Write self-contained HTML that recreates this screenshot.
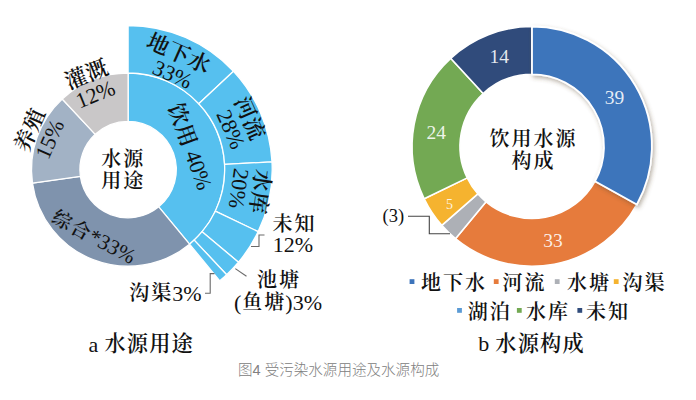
<!DOCTYPE html>
<html lang="zh-CN"><head><meta charset="utf-8"><title>图4 受污染水源用途及水源构成</title>
<style>
html,body{margin:0;padding:0;background:#fff}
body{width:696px;height:400px;overflow:hidden;position:relative}
svg{position:absolute;left:0;top:0;display:block}
svg text{font-family:"Liberation Serif","Noto Serif CJK SC",serif;font-weight:400}
.cap{position:absolute;left:238px;top:361px;font:300 14.55px/18px "Liberation Sans","Noto Sans CJK SC",sans-serif;color:#808080;white-space:nowrap}
</style></head><body>
<svg width="696" height="400" viewBox="0 0 696 400">
<defs><filter id="sh" x="-20%" y="-20%" width="140%" height="140%"><feDropShadow dx="1.6" dy="2.4" stdDeviation="2.3" flood-color="#5a4a30" flood-opacity="0.42"/></filter></defs>
<g><path d="M128.10 73.00A96.6 96.6 0 0 1 189.55 244.14L158.76 206.79A48.2 48.2 0 0 0 128.10 121.40Z" fill="#56c0ef" stroke="#fff" stroke-width="1.3" stroke-linejoin="round"/><path d="M189.55 244.14A96.6 96.6 0 0 1 32.44 183.04L80.37 176.31A48.2 48.2 0 0 0 158.76 206.79Z" fill="#7f93ad" stroke="#fff" stroke-width="1.3" stroke-linejoin="round"/><path d="M32.44 183.04A96.6 96.6 0 0 1 62.22 98.95L95.23 134.35A48.2 48.2 0 0 0 80.37 176.31Z" fill="#a2b2c5" stroke="#fff" stroke-width="1.3" stroke-linejoin="round"/><path d="M62.22 98.95A96.6 96.6 0 0 1 128.10 73.00L128.10 121.40A48.2 48.2 0 0 0 95.23 134.35Z" fill="#c9c7c8" stroke="#fff" stroke-width="1.3" stroke-linejoin="round"/><path d="M128.10 25.50A144.1 144.1 0 0 1 233.49 71.32L198.75 103.72A96.6 96.6 0 0 0 128.10 73.00Z" fill="#56c0ef" stroke="#fff" stroke-width="1.3" stroke-linejoin="round"/><path d="M233.49 71.32A144.1 144.1 0 0 1 271.99 161.81L224.56 164.38A96.6 96.6 0 0 0 198.75 103.72Z" fill="#56c0ef" stroke="#fff" stroke-width="1.3" stroke-linejoin="round"/><path d="M271.99 161.81A144.1 144.1 0 0 1 258.16 231.64L215.29 211.19A96.6 96.6 0 0 0 224.56 164.38Z" fill="#56c0ef" stroke="#fff" stroke-width="1.3" stroke-linejoin="round"/><path d="M258.16 231.64A144.1 144.1 0 0 1 238.49 262.23L202.10 231.69A96.6 96.6 0 0 0 215.29 211.19Z" fill="#56c0ef" stroke="#fff" stroke-width="1.3" stroke-linejoin="round"/><path d="M238.49 262.23A144.1 144.1 0 0 1 226.65 274.73L194.17 240.08A96.6 96.6 0 0 0 202.10 231.69Z" fill="#56c0ef" stroke="#fff" stroke-width="1.3" stroke-linejoin="round"/><path d="M226.65 274.73A144.1 144.1 0 0 1 219.76 280.79L189.55 244.14A96.6 96.6 0 0 0 194.17 240.08Z" fill="#56c0ef" stroke="#fff" stroke-width="1.3" stroke-linejoin="round"/></g>
<g><path d="M636.88 204.50A119.9 119.9 0 0 1 455.47 238.70L486.05 201.83A72.0 72.0 0 0 0 594.98 181.29Z" fill="#e67b3c" stroke="#fff" stroke-width="1.6" stroke-linejoin="round"/><path d="M455.47 238.70A119.9 119.9 0 0 1 441.77 225.36L477.81 193.81A72.0 72.0 0 0 0 486.05 201.83Z" fill="#adb0b6" stroke="#fff" stroke-width="1.6" stroke-linejoin="round"/><path d="M441.77 225.36A119.9 119.9 0 0 1 424.17 198.83L467.25 177.89A72.0 72.0 0 0 0 477.81 193.81Z" fill="#f5b32f" stroke="#fff" stroke-width="1.6" stroke-linejoin="round"/><path d="M424.17 198.83A119.9 119.9 0 0 1 450.67 58.30L483.16 93.50A72.0 72.0 0 0 0 467.25 177.89Z" fill="#73a953" stroke="#fff" stroke-width="1.6" stroke-linejoin="round"/><path d="M450.67 58.30A119.9 119.9 0 0 1 532.00 26.50L532.00 74.40A72.0 72.0 0 0 0 483.16 93.50Z" fill="#304b7b" stroke="#fff" stroke-width="1.6" stroke-linejoin="round"/><path d="M532.00 26.50A119.9 119.9 0 0 1 636.88 204.50L594.98 181.29A72.0 72.0 0 0 0 532.00 74.40Z" fill="#3d74bb" stroke="#fff" stroke-width="1.8" stroke-linejoin="round" filter="url(#sh)"/></g>
<g fill="none" stroke="#6a6a6a" stroke-width="1.1"><path d="M264.5 235H259V246.5H251" /><path d="M235.3 268.6L246.5 276.2" /><path d="M214.5 273.6H210.2V293.2H205" /><path d="M408 216.3H429.3V233.8H450" stroke="#444"/></g>
<g><g transform="translate(174.3 63) rotate(24)" font-size="22" fill="#111" text-anchor="middle"><text x="0.1" y="-11.0" dominant-baseline="central"><tspan font-weight="600" font-size="22" letter-spacing="0.4" dx="0.2">地下水</tspan></text><text x="3" y="11.0" dominant-baseline="central">33%</text></g><g transform="translate(240 122.5) rotate(66)" font-size="22" fill="#111" text-anchor="middle"><text x="0.1" y="-11.0" dominant-baseline="central"><tspan font-weight="600" font-size="22" letter-spacing="0.4" dx="0.2">河流</tspan></text><text x="2.5" y="11.0" dominant-baseline="central">28%</text></g><g transform="translate(249.8 190) rotate(98)" font-size="22" fill="#111" text-anchor="middle"><text x="0.1" y="-11.0" dominant-baseline="central"><tspan font-weight="600" font-size="22" letter-spacing="0.4" dx="0.2">水库</tspan></text><text x="0" y="11.0" dominant-baseline="central">20%</text></g><g transform="translate(190.5 146) rotate(70)" font-size="22" fill="#111" text-anchor="middle"><text x="0.1" y="0.0" dominant-baseline="central"><tspan font-weight="600" font-size="22" letter-spacing="0.4" dx="0.2">饮用</tspan><tspan dx="-0.2"> 40%</tspan></text></g><g transform="translate(90.3 84.3) rotate(-22)" font-size="22" fill="#111" text-anchor="middle"><text x="0.1" y="-11.0" dominant-baseline="central"><tspan font-weight="600" font-size="22" letter-spacing="0.4" dx="0.2">灌溉</tspan></text><text x="1" y="11.0" dominant-baseline="central">12%</text></g><g transform="translate(39.6 134.6) rotate(-66)" font-size="22" fill="#111" text-anchor="middle"><text x="0.1" y="-11.0" dominant-baseline="central"><tspan font-weight="600" font-size="22" letter-spacing="0.4" dx="0.2">养殖</tspan></text><text x="0" y="11.0" dominant-baseline="central">15%</text></g><g transform="translate(92.5 236) rotate(28)" font-size="21.3" fill="#111" text-anchor="middle"><text x="0.48" y="0.0" dominant-baseline="central"><tspan font-weight="600" font-size="19.36" letter-spacing="1.94" dx="0.97">综合</tspan><tspan dx="-0.97">*33%</tspan></text></g><g transform="translate(121.8 169.75) rotate(0)" font-size="22" fill="#111" text-anchor="middle"><text x="0.5" y="-11.0" dominant-baseline="central"><tspan font-weight="600" font-size="20.0" letter-spacing="2.0" dx="1.0">水源</tspan></text><text x="0.5" y="11.0" dominant-baseline="central"><tspan font-weight="600" font-size="20.0" letter-spacing="2.0" dx="1.0">用途</tspan></text></g><g transform="translate(293 233.5) rotate(0)" font-size="22" fill="#111" text-anchor="middle"><text x="0.5" y="-9.8" dominant-baseline="central"><tspan font-weight="600" font-size="20.0" letter-spacing="2.0" dx="1.0">未知</tspan></text><text x="0" y="11.2" dominant-baseline="central">12%</text></g><g transform="translate(277.5 291.2) rotate(0)" font-size="22" fill="#111" text-anchor="middle"><text x="0.5" y="-10.8" dominant-baseline="central"><tspan font-weight="600" font-size="20.0" letter-spacing="2.0" dx="1.0">池塘</tspan></text><text x="0.5" y="10.8" dominant-baseline="central">(<tspan font-weight="600" font-size="20.0" letter-spacing="2.0" dx="1.0">鱼塘</tspan><tspan dx="-1.0">)3%</tspan></text></g><g transform="translate(164 293) rotate(0)" font-size="22" fill="#111" text-anchor="middle"><text x="0.5" y="0.0" dominant-baseline="central"><tspan font-weight="600" font-size="20.0" letter-spacing="2.0" dx="1.0">沟渠</tspan><tspan dx="-1.0">3%</tspan></text></g><g transform="translate(141 344) rotate(0)" font-size="22" fill="#111" text-anchor="middle"><text x="0.3" y="0.0" dominant-baseline="central">a <tspan font-weight="600" font-size="21.2" letter-spacing="1.2" dx="0.6">水源用途</tspan></text></g></g>
<g><text x="614.5" y="97" text-anchor="middle" dominant-baseline="central" fill="#fff" fill-opacity="0.88" font-size="19.5">39</text><text x="553.1" y="240.6" text-anchor="middle" dominant-baseline="central" fill="#fff" fill-opacity="0.88" font-size="19.5">33</text><text x="449.5" y="204.3" text-anchor="middle" dominant-baseline="central" fill="#fff" fill-opacity="0.88" font-size="14">5</text><text x="436.2" y="132.6" text-anchor="middle" dominant-baseline="central" fill="#fff" fill-opacity="0.88" font-size="19.5">24</text><text x="499.3" y="56.3" text-anchor="middle" dominant-baseline="central" fill="#fff" fill-opacity="0.88" font-size="19.5">14</text><g transform="translate(532.1 149.7) rotate(0)" font-size="22" fill="#111" text-anchor="middle"><text x="0.5" y="-10.9" dominant-baseline="central"><tspan font-weight="600" font-size="20.0" letter-spacing="2.0" dx="1.0">饮用水源</tspan></text><text x="0.5" y="10.9" dominant-baseline="central"><tspan font-weight="600" font-size="20.0" letter-spacing="2.0" dx="1.0">构成</tspan></text></g><text x="393.3" y="216.3" text-anchor="middle" dominant-baseline="central" fill="#111" fill-opacity="1" font-size="18.5">(3)</text><rect x="409.6" y="279.2" width="4.8" height="4.8" fill="#3d74bb"/><text x="420" y="283.2" font-size="22" fill="#111" dominant-baseline="central"><tspan font-weight="600" font-size="20.0" letter-spacing="2.0" dx="1.0">地下水</tspan></text><rect x="493.8" y="279.2" width="4.8" height="4.8" fill="#e67b3c"/><text x="501.5" y="283.2" font-size="22" fill="#111" dominant-baseline="central"><tspan font-weight="600" font-size="20.0" letter-spacing="2.0" dx="1.0">河流</tspan></text><rect x="554.8000000000001" y="279.2" width="4.8" height="4.8" fill="#adb0b6"/><text x="566" y="283.2" font-size="22" fill="#111" dominant-baseline="central"><tspan font-weight="600" font-size="20.0" letter-spacing="2.0" dx="1.0">水塘</tspan></text><rect x="613.8000000000001" y="279.2" width="4.8" height="4.8" fill="#f5b32f"/><text x="621.5" y="283.2" font-size="22" fill="#111" dominant-baseline="central"><tspan font-weight="600" font-size="20.0" letter-spacing="2.0" dx="1.0">沟渠</tspan></text><rect x="457.1" y="308.0" width="4.8" height="4.8" fill="#5b9bd5"/><text x="466.8" y="312" font-size="22" fill="#111" dominant-baseline="central"><tspan font-weight="600" font-size="20.0" letter-spacing="2.0" dx="1.0">湖泊</tspan></text><rect x="516.9" y="308.0" width="4.8" height="4.8" fill="#73a953"/><text x="525" y="312" font-size="22" fill="#111" dominant-baseline="central"><tspan font-weight="600" font-size="20.0" letter-spacing="2.0" dx="1.0">水库</tspan></text><rect x="577.4" y="308.0" width="4.8" height="4.8" fill="#304b7b"/><text x="585" y="312" font-size="22" fill="#111" dominant-baseline="central"><tspan font-weight="600" font-size="20.0" letter-spacing="2.0" dx="1.0">未知</tspan></text><g transform="translate(531.2 343.6) rotate(0)" font-size="22" fill="#111" text-anchor="middle"><text x="0.3" y="0.0" dominant-baseline="central">b <tspan font-weight="600" font-size="21.2" letter-spacing="1.2" dx="0.6">水源构成</tspan></text></g></g>
</svg>
<div class="cap">图4 受污染水源用途及水源构成</div>
</body></html>
